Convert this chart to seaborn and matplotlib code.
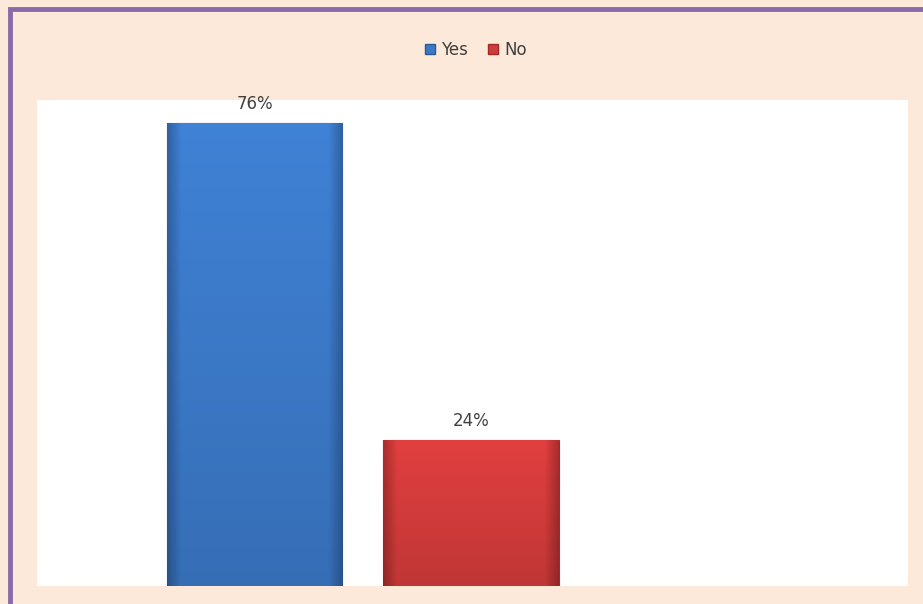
import numpy as np
import matplotlib
matplotlib.use("Agg")
import matplotlib.pyplot as plt
import matplotlib.colors as mcolors
from matplotlib.patches import Rectangle, Patch
import seaborn as sns

# data
answers = ["Yes", "No"]
shares = [76, 24]
colors = {"Yes": "#3B78C6", "No": "#D13B3B"}
edge_colors = {"Yes": "#2C5A96", "No": "#9E2A2A"}

sns.set_style("white")
plt.rcParams['font.family'] = ['DejaVu Sans']

fig = plt.figure(figsize=(9.23, 6.04), dpi=100)
fig.patch.set_facecolor("#FDE9DA")

# purple frame (cut off on right and bottom like the original)
fig.patches.append(Rectangle((9.5 / 923, -0.1), 1.2, (604 - 9.5) / 604 + 0.1,
                             transform=fig.transFigure, fill=False,
                             edgecolor="#8A6BA8", linewidth=3.5, zorder=10))

ax = fig.add_axes([37 / 923, 18 / 604, 871 / 923, 486 / 604])
ax.set_facecolor("white")

sns.barplot(x=answers, y=shares, hue=answers, palette=colors, width=0.81,
            legend=False, ax=ax, saturation=1)

# give the bars a soft gradient look
for bar, name in zip(ax.patches, answers):
    x0, y0 = bar.get_x(), bar.get_y()
    w, h = bar.get_width(), bar.get_height()
    base = np.array(mcolors.to_rgb(colors[name]))
    dark = np.array(mcolors.to_rgb(edge_colors[name]))
    t = np.linspace(0, 1, 200)
    prof = np.clip(np.minimum(t, 1 - t) / 0.08, 0, 1)
    row = dark[None, :] * (1 - prof[:, None]) + base[None, :] * prof[:, None]
    vert = np.linspace(1.08, 0.92, 100)[:, None, None]
    img = np.clip(row[None, :, :] * vert, 0, 1)
    im = ax.imshow(img, extent=[x0, x0 + w, y0, y0 + h], aspect="auto",
                   origin="upper", zorder=2)
    im.set_clip_path(bar)
    bar.set_edgecolor(edge_colors[name])
    bar.set_linewidth(0.8)
    ax.text(x0 + w / 2, h + 1.6, f"{shares[answers.index(name)]}%",
            ha="center", va="bottom", fontsize=12, color="#404040", zorder=3)

ax.set_xlim(-1.005, 3.02)
ax.set_ylim(0, 79.8)
ax.set_xticks([])
ax.set_yticks([])
ax.set_xlabel("")
ax.set_ylabel("")
for s in ax.spines.values():
    s.set_visible(False)

handles = [Patch(facecolor=colors[a], edgecolor=edge_colors[a]) for a in answers]
fig.legend(handles, answers, loc="center", bbox_to_anchor=(476 / 923, 1 - 50 / 604),
           ncol=2, frameon=False, fontsize=12, handlelength=0.6, handleheight=0.6,
           handletextpad=0.4, columnspacing=1.2, labelcolor="#404040")

fig.savefig("out.png", dpi=100, facecolor=fig.get_facecolor())
